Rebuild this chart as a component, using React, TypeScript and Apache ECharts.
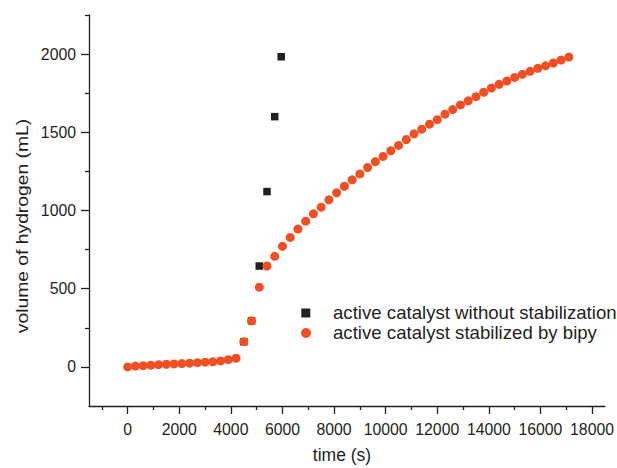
import React, { useEffect, useRef } from "react";
import * as echarts from "echarts";

// ---- data ----
const seriesNames = [
  "active catalyst without stabilization",
  "active catalyst stabilized by bipy",
];

const unstabilizedTime = [4500, 4800, 5100, 5400, 5700, 5950];
const unstabilizedVolume = [161, 295, 645, 1121, 1600, 1983];

const stabilizedTime = [
  0, 300, 600, 900, 1200, 1500, 1800, 2100, 2400, 2700, 3000, 3300, 3600, 3900, 4200,
  4500, 4800, 5100,
  5400, 5700, 6000, 6300, 6600, 6900, 7200, 7500, 7800, 8100, 8400, 8700, 9000,
  9300, 9600, 9900, 10200, 10500, 10800, 11100, 11400, 11700, 12000, 12300, 12600, 12900, 13200, 13500, 13800,
  14100, 14400, 14700, 15000, 15300, 15600, 15900, 16200, 16500, 16800, 17100,
];
const stabilizedVolume = [
  0, 5, 8, 11, 14, 17, 19, 21, 24, 27, 30, 33, 38, 46, 56,
  161, 295, 510,
  645, 707, 771, 828, 881, 932, 979, 1021, 1068, 1113, 1155, 1196, 1234,
  1275, 1312, 1346, 1382, 1416, 1454, 1490, 1520, 1552, 1581, 1616, 1645, 1675, 1701, 1728, 1756,
  1783, 1807, 1828, 1851, 1871, 1890, 1909, 1925, 1943, 1962, 1981,
];

const xMajorTicks = [0, 2000, 4000, 6000, 8000, 10000, 12000, 14000, 16000, 18000];
const xMinorTicks = [-1000, 1000, 3000, 5000, 7000, 9000, 11000, 13000, 15000, 17000];
const yMajorTicks = [0, 500, 1000, 1500, 2000];
const yMinorTicks = [250, 750, 1250, 1750, 2250];

const xTitle = "time (s)";
const yTitle = "volume of hydrogen (mL)";

// ---- styles ----
const INK = "#231f20";
const ORANGE = "#f04e23";
const FONT = "Liberation Sans, Arial, sans-serif";

export default function App() {
  const ref = useRef<HTMLDivElement>(null);

  useEffect(() => {
    if (!ref.current) return;
    const chart = echarts.init(ref.current, undefined, { renderer: "svg" });

    const axisLine = { show: true, onZero: false, lineStyle: { color: INK, width: 1.3 } };
    const hiddenLine = { show: false, onZero: false };
    const xRange = { min: -1500, max: 18500 };
    const yRange = { min: -250, max: 2250 };
    const plain = (v: number) => String(v);

    chart.setOption({
      animation: false,
      backgroundColor: "#ffffff",
      textStyle: { fontFamily: FONT },
      grid: { left: 89, right: 9, top: 15, bottom: 62, containLabel: false },
      xAxis: [
        {
          type: "value",
          position: "bottom",
          ...xRange,
          axisLine,
          splitLine: { show: false },
          axisTick: {
            show: true,
            inside: false,
            length: 8,
            customValues: xMajorTicks,
            lineStyle: { color: INK, width: 1.3 },
          },
          axisLabel: {
            show: true,
            customValues: xMajorTicks,
            formatter: plain,
            margin: 15,
            fontSize: 15.8,
            color: INK,
            fontFamily: FONT,
          },
        },
        {
          type: "value",
          position: "bottom",
          ...xRange,
          axisLine: hiddenLine,
          splitLine: { show: false },
          axisTick: {
            show: true,
            inside: false,
            length: 4,
            customValues: xMinorTicks,
            lineStyle: { color: INK, width: 1.3 },
          },
          axisLabel: { show: false },
        },
      ],
      yAxis: [
        {
          type: "value",
          position: "left",
          ...yRange,
          axisLine,
          splitLine: { show: false },
          axisTick: {
            show: true,
            inside: false,
            length: 8,
            customValues: yMajorTicks,
            lineStyle: { color: INK, width: 1.3 },
          },
          axisLabel: {
            show: true,
            customValues: yMajorTicks,
            formatter: plain,
            margin: 13,
            fontSize: 15.8,
            color: INK,
            fontFamily: FONT,
          },
        },
        {
          type: "value",
          position: "left",
          ...yRange,
          axisLine: hiddenLine,
          splitLine: { show: false },
          axisTick: {
            show: true,
            inside: false,
            length: 4,
            customValues: yMinorTicks,
            lineStyle: { color: INK, width: 1.3 },
          },
          axisLabel: { show: false },
        },
      ],
      series: [
        {
          name: seriesNames[0],
          type: "scatter",
          xAxisIndex: 0,
          yAxisIndex: 0,
          symbol: "rect",
          symbolSize: 7.5,
          itemStyle: { color: INK, opacity: 1 },
          data: unstabilizedTime.map((t, i) => [t, unstabilizedVolume[i]]),
        },
        {
          name: seriesNames[1],
          type: "scatter",
          xAxisIndex: 0,
          yAxisIndex: 0,
          symbol: "circle",
          symbolSize: 9,
          itemStyle: { color: ORANGE, opacity: 1 },
          data: stabilizedTime.map((t, i) => [t, stabilizedVolume[i]]),
        },
      ],
      graphic: [
        {
          type: "text",
          x: 342,
          y: 455,
          style: {
            text: xTitle,
            fontSize: 17.5,
            fontFamily: FONT,
            fill: INK,
            align: "center",
            verticalAlign: "middle",
          },
        },
        {
          type: "text",
          x: 22,
          y: 226,
          rotation: Math.PI / 2,
          scaleX: 1.17,
          style: {
            text: yTitle,
            fontSize: 16.5,
            fontFamily: FONT,
            fill: INK,
            align: "center",
            verticalAlign: "middle",
          },
        },
        {
          type: "rect",
          shape: { x: 301.3, y: 308.5, width: 9, height: 9 },
          style: { fill: INK },
        },
        {
          type: "circle",
          shape: { cx: 306, cy: 333, r: 5 },
          style: { fill: ORANGE },
        },
        {
          type: "text",
          x: 333,
          y: 313,
          scaleX: 1.065,
          style: {
            text: seriesNames[0],
            fontSize: 17.5,
            fontFamily: FONT,
            fill: INK,
            align: "left",
            verticalAlign: "middle",
          },
        },
        {
          type: "text",
          x: 333,
          y: 333,
          scaleX: 1.065,
          style: {
            text: seriesNames[1],
            fontSize: 17.5,
            fontFamily: FONT,
            fill: INK,
            align: "left",
            verticalAlign: "middle",
          },
        },
      ],
    });

    return () => chart.dispose();
  }, []);

  return (
    <div
      ref={ref}
      style={{ position: "absolute", left: 0, top: 0, width: 617, height: 468 }}
    />
  );
}
